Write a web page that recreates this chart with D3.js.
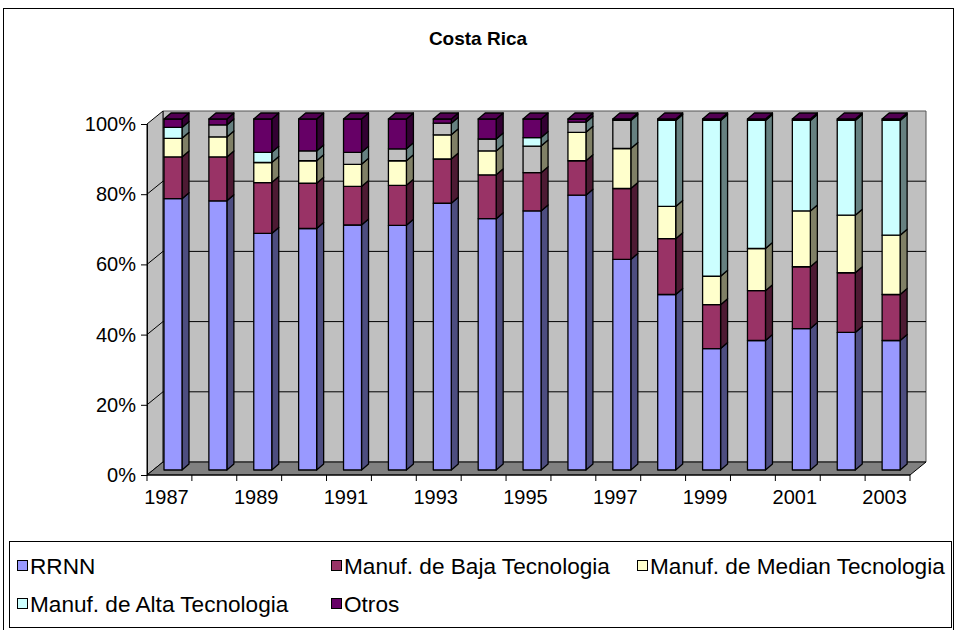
<!DOCTYPE html>
<html>
<head>
<meta charset="utf-8">
<script src="https://cdn.jsdelivr.net/npm/d3@7/dist/d3.min.js"></script>
<style>
  html, body { margin: 0; padding: 0; background: #fff; }
  svg { display: block; font-family: Arial, "Liberation Sans", sans-serif; }
</style>
</head>
<body>
<svg id="chart" width="956" height="630"></svg>
<script>
// Export structure of Costa Rica, share of total (%)
const years = ["1987","1988","1989","1990","1991","1992","1993","1994","1995",
               "1996","1997","1998","1999","2000","2001","2002","2003"];
const seriesNames = ["RRNN", "Manuf. de Baja Tecnologia", "Manuf. de Median Tecnologia",
                     "Manuf. de Alta Tecnologia", "Otros"];
const rrnn   = [77.3, 76.7, 67.4, 68.8, 69.8, 69.7, 76.0, 71.6, 73.8, 78.3, 60.0, 50.0, 34.6, 36.9, 40.3, 39.2, 36.9];
const baja   = [11.9, 12.5, 14.5, 12.9, 11.0, 11.4, 12.6, 12.5, 10.9,  9.8, 20.2, 15.9, 12.5, 14.2, 17.6, 17.0, 13.1];
const median = [ 5.3,  5.7,  5.7,  6.4,  6.3,  7.0,  6.9,  6.8,  7.6,  8.1, 11.4,  9.2,  8.1, 12.0, 15.9, 16.4, 16.9];
const alta   = [ 3.1,  3.4,  2.9,  2.8,  3.4,  3.4,  3.3,  3.4,  2.4,  2.9,  8.0, 24.5, 44.4, 36.5, 25.8, 27.0, 32.7];
const otros  = [ 2.4,  1.7,  9.5,  9.1,  9.5,  8.5,  1.2,  5.7,  5.3,  0.9,  0.4,  0.4,  0.4,  0.4,  0.4,  0.4,  0.4];
const yTicks = [0, 20, 40, 60, 80, 100];
const xLabelYears = ["1987","1989","1991","1993","1995","1997","1999","2001","2003"];

// Styling
const frontColors = ["#9999FF", "#993366", "#FFFFCC", "#CCFFFF", "#660066"];
const sideColors  = ["#4D4D80", "#4D1A33", "#808066", "#668080", "#330033"];
const topColors   = ["#7A7ACC", "#7A2952", "#CCCCA3", "#A3CCCC", "#520052"];
const greyFront = "#C0C0C0";
// individual points drawn with a grey front face: "year|series index"
const greyPoints = new Set(["1988|3","1990|3","1991|3","1992|3","1993|3","1994|3",
                            "1995|2","1996|3","1997|3"]);

const keys = seriesNames;
const table = years.map((yr, i) => ({
  year: yr,
  [keys[0]]: rrnn[i], [keys[1]]: baja[i], [keys[2]]: median[i],
  [keys[3]]: alta[i], [keys[4]]: otros[i]
}));
const stacked = d3.stack().keys(keys).offset(d3.stackOffsetExpand)(table);

const svg = d3.select("#chart");

// chart frame
svg.append("rect").attr("x", 3.5).attr("y", 8.5).attr("width", 950).attr("height", 625)
  .attr("fill", "#fff").attr("stroke", "#000").attr("stroke-width", 1);

svg.append("text").attr("x", 478).attr("y", 45).attr("text-anchor", "middle")
  .attr("font-size", 19).attr("font-weight", "bold").text("Costa Rica");

// 3D geometry
const left = 147, right = 910;
const depth = { dx: 16, dy: -13 };
const x = d3.scaleBand().domain(years).range([left, right]).padding(0);
const y = d3.scaleLinear().domain([0, 1]).range([475, 124]);
const yPct = d3.scaleLinear().domain([0, 100]).range([475, 124]);
const barShift = { dx: 6, dy: -5 };   // bars sit partway into the depth
const barW = 18, barOffset = 11;
const side = { dx: 7, dy: -6 };

const g = svg.append("g");
const pts = a => a.map(p => p.join(",")).join(" ");

// back wall
g.append("polygon")
  .attr("points", pts([[left + depth.dx, y(1) + depth.dy], [right + depth.dx, y(1) + depth.dy],
                       [right + depth.dx, y(0) + depth.dy], [left + depth.dx, y(0) + depth.dy]]))
  .attr("fill", "#C0C0C0").attr("stroke", "#555").attr("stroke-width", 1);
// left side wall
g.append("polygon")
  .attr("points", pts([[left, y(1)], [left + depth.dx, y(1) + depth.dy],
                       [left + depth.dx, y(0) + depth.dy], [left, y(0)]]))
  .attr("fill", "#C0C0C0").attr("stroke", "#000").attr("stroke-width", 1);
// floor
g.append("polygon")
  .attr("points", pts([[left, y(0)], [left + depth.dx, y(0) + depth.dy],
                       [right + depth.dx, y(0) + depth.dy], [right, y(0)]]))
  .attr("fill", "#808080").attr("stroke", "#000").attr("stroke-width", 1);

// gridlines on the walls
yTicks.filter(t => t > 0 && t < 100).forEach(t => {
  const yy = yPct(t);
  g.append("polyline")
    .attr("points", pts([[left, yy], [left + depth.dx, yy + depth.dy], [right + depth.dx, yy + depth.dy]]))
    .attr("fill", "none").attr("stroke", "#000").attr("stroke-width", 1);
});

// stacked 3D bars
stacked.forEach((layer, si) => {
  layer.forEach((d, i) => {
    const yr = years[i];
    const bx = x(yr) + barOffset + barShift.dx;
    const yT = y(d[1]) + barShift.dy;
    const yB = y(d[0]) + barShift.dy;
    const front = greyPoints.has(yr + "|" + si) ? greyFront : frontColors[si];
    const bg = g.append("g").attr("stroke", "#000").attr("stroke-width", 1.3)
      .attr("stroke-linejoin", "round");
    bg.append("polygon")
      .attr("points", pts([[bx + barW, yB], [bx + barW + side.dx, yB + side.dy],
                           [bx + barW + side.dx, yT + side.dy], [bx + barW, yT]]))
      .attr("fill", sideColors[si]);
    bg.append("rect").attr("x", bx).attr("y", yT).attr("width", barW).attr("height", yB - yT)
      .attr("fill", front);
    if (si === stacked.length - 1) {
      bg.append("polygon")
        .attr("points", pts([[bx, yT], [bx + side.dx, yT + side.dy],
                             [bx + barW + side.dx, yT + side.dy], [bx + barW, yT]]))
        .attr("fill", topColors[si]);
    }
  });
});

// value axis
const yAxis = d3.axisLeft(yPct).tickValues(yTicks).tickSize(6).tickPadding(5)
  .tickFormat(d => d + "%");
const ya = svg.append("g").attr("transform", `translate(${left},0)`).call(yAxis);
ya.select(".domain").attr("stroke", "#000");
ya.selectAll(".tick line").attr("stroke", "#000");
ya.selectAll("text").attr("font-size", 20).attr("fill", "#000")
  .attr("font-family", "Arial, 'Liberation Sans', sans-serif");

// category axis
const xa = svg.append("g").attr("transform", `translate(0,${y(0)})`);
xa.append("line").attr("x1", left).attr("x2", right).attr("stroke", "#000");
const bounds = years.map(yr => x(yr)).concat([right]);
xa.selectAll("line.tk").data(bounds).join("line").attr("class", "tk")
  .attr("x1", d => d).attr("x2", d => d).attr("y1", 0).attr("y2", 6).attr("stroke", "#000");
const xAxis = d3.axisBottom(x).tickValues(xLabelYears).tickSize(0).tickPadding(15);
const xl = svg.append("g").attr("transform", `translate(-3,${y(0)})`).call(xAxis);
xl.select(".domain").remove();
xl.selectAll("text").attr("font-size", 20).attr("fill", "#000")
  .attr("font-family", "Arial, 'Liberation Sans', sans-serif");

// legend
const lg = svg.append("g");
lg.append("rect").attr("x", 9.5).attr("y", 541.5).attr("width", 942).attr("height", 86)
  .attr("fill", "#fff").attr("stroke", "#000").attr("stroke-width", 1);
const legendPos = [[17, 566], [331, 566], [637, 566], [17, 604], [331, 604]];
seriesNames.forEach((name, i) => {
  const [lx, ly] = legendPos[i];
  lg.append("rect").attr("x", lx + 0.5).attr("y", ly - 5.5).attr("width", 10).attr("height", 10)
    .attr("fill", frontColors[i]).attr("stroke", "#000").attr("stroke-width", 1);
  lg.append("text").attr("x", lx + 13).attr("y", ly).attr("dy", "0.35em")
    .attr("font-size", 22.6).text(name);
});
</script>
</body>
</html>
